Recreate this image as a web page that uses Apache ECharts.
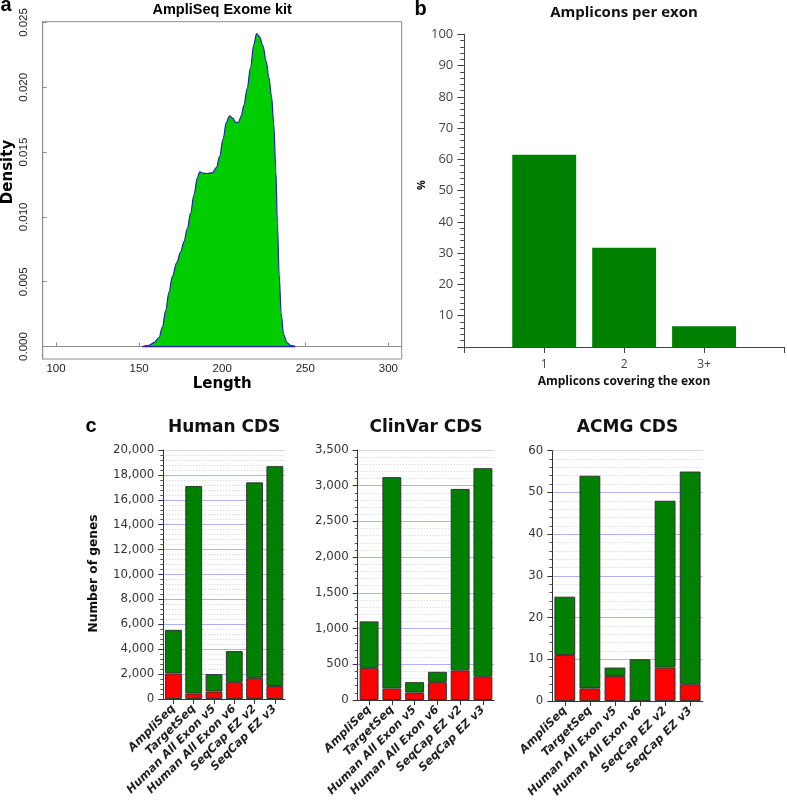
<!DOCTYPE html>
<html><head><meta charset="utf-8">
<script src="https://cdn.jsdelivr.net/npm/echarts@6/dist/echarts.min.js"></script>
<style>html,body{margin:0;padding:0;background:#fff}#chart{width:787px;height:800px}</style>
</head><body><div id="chart"></div>
<script>
// ---- Panel a: AmpliSeq amplicon length density ----
const densityLength = [152, 156, 159, 162, 164, 166, 168, 170, 172.7, 175, 177, 179, 181, 183, 185, 186.5, 188.5, 191, 194, 196.5, 198.5, 200.5, 202.5, 204.5, 206.5, 208, 209.7, 211.5, 213, 215, 217, 219, 220.7, 222.5, 224.5, 226.5, 228, 229.7, 231, 232.3, 233.2, 234.3, 235.5, 237, 239, 241, 244];
const densityValue = [0, 0.0001, 0.0003, 0.0007, 0.0015, 0.0028, 0.0042, 0.0054, 0.0065, 0.0073, 0.0081, 0.0091, 0.0103, 0.0117, 0.0130, 0.01348, 0.01338, 0.01335, 0.0134, 0.0138, 0.0147, 0.0160, 0.0173, 0.0178, 0.0176, 0.0173, 0.0173, 0.0178, 0.0186, 0.0199, 0.0215, 0.0233, 0.02415, 0.0239, 0.0232, 0.0220, 0.0208, 0.0193, 0.0172, 0.0135, 0.0095, 0.0055, 0.0025, 0.0009, 0.0003, 0.0001, 0];
const densityXTicks = [100, 150, 200, 250, 300];
const densityYTicks = [0, 0.005, 0.01, 0.015, 0.02, 0.025];

// ---- Panel b: amplicons per exon ----
const exonCategories = ['1', '2', '3+'];
const exonPercent = [61.5, 31.7, 6.6];

// ---- Panel c: genes covered ----
const kits = ['AmpliSeq', 'TargetSeq', 'Human All Exon v5', 'Human All Exon v6', 'SeqCap EZ v2', 'SeqCap EZ v3'];
const humanRed = [2050, 450, 600, 1350, 1700, 1050];
const humanGreen = [3500, 16650, 1400, 2500, 15700, 17650];
const clinvarRed = [450, 160, 105, 250, 415, 325];
const clinvarGreen = [650, 2960, 145, 145, 2540, 2920];
const acmgRed = [11, 3, 6, 0, 8, 4];
const acmgGreen = [14, 51, 2, 10, 40, 51];
const cTitles = ['Human CDS', 'ClinVar CDS', 'ACMG CDS'];

const chart = echarts.init(document.getElementById('chart'), null, {renderer: 'canvas'});

const cPanels = [
  {red: humanRed, green: humanGreen, max: 20000, interval: 2000, grid: {left: 163.3, top: 450, width: 121.7, height: 249}},
  {red: clinvarRed, green: clinvarGreen, max: 3500, interval: 500, grid: {left: 357.7, top: 450, width: 136.6, height: 250}},
  {red: acmgRed, green: acmgGreen, max: 60, interval: 10, grid: {left: 552.3, top: 450.7, width: 150.4, height: 251}}
];

const grids = [
  {left: 42.7, top: 21.7, width: 359, height: 337.3, show: true, borderColor: '#8c8c8c', borderWidth: 1, backgroundColor: 'transparent'},
  {left: 464.3, top: 34.3, width: 321.4, height: 312.7}
];
cPanels.forEach(p => grids.push(p.grid));

const xAxes = [
  {gridIndex: 0, type: 'value', min: 92, max: 308,
   axisLine: {show: true, lineStyle: {color: '#8c8c8c'}},
   axisTick: {show: true, inside: true, length: 4, customValues: densityXTicks, lineStyle: {color: '#8c8c8c'}},
   axisLabel: {customValues: densityXTicks, margin: 4, fontFamily: 'Liberation Sans', fontSize: 11.5, color: '#222'},
   splitLine: {show: false}},
  {gridIndex: 1, type: 'value', min: 0, max: 4, interval: 1,
   axisLine: {show: true, lineStyle: {color: '#444'}},
   axisTick: {show: true, length: 6, lineStyle: {color: '#444'}},
   axisLabel: {formatter: v => exonCategories[v - 1] || '', margin: 12, fontFamily: 'Open Sans', fontSize: 12, color: '#444'},
   splitLine: {show: false}}
];
const yAxes = [
  {gridIndex: 0, type: 'value', min: -0.00096, max: 0.02506,
   axisLine: {show: true, lineStyle: {color: '#8c8c8c'}},
   axisTick: {show: true, inside: true, length: 4, customValues: densityYTicks, lineStyle: {color: '#8c8c8c'}},
   axisLabel: {customValues: densityYTicks, rotate: 90, margin: 13, formatter: v => v.toFixed(3), fontFamily: 'Liberation Sans', fontSize: 11.5, color: '#222'},
   splitLine: {show: false}},
  {gridIndex: 1, type: 'value', min: 0, max: 100, interval: 10,
   axisLine: {show: true, lineStyle: {color: '#444'}},
   axisTick: {show: true, length: 7, lineStyle: {color: '#444'}},
   minorTick: {show: true, splitNumber: 5, length: 4, lineStyle: {color: '#444'}},
   axisLabel: {formatter: v => v === 0 ? '' : String(v), margin: 11, fontFamily: 'Open Sans', fontSize: 13, color: '#444'},
   splitLine: {show: false}}
];

const series = [
  {type: 'line', xAxisIndex: 0, yAxisIndex: 0, data: densityLength.map((x, i) => [x, densityValue[i]]),
   smooth: 0.35, smoothMonotone: 'x', symbol: 'none', silent: true,
   lineStyle: {color: '#2222aa', width: 1.2}, areaStyle: {color: '#00cd00', opacity: 1}},
  {type: 'line', xAxisIndex: 0, yAxisIndex: 0, data: [[densityLength[0], 0], [densityLength[densityLength.length - 1], 0]],
   symbol: 'none', silent: true, lineStyle: {color: '#2222aa', width: 1.2}},
  {type: 'bar', xAxisIndex: 1, yAxisIndex: 1, data: exonPercent.map((v, i) => [i + 1, v]),
   barWidth: '80%', itemStyle: {color: '#008000'}}
];

cPanels.forEach((p, k) => {
  const gi = k + 2;
  const n = p.max / p.interval;
  xAxes.push({gridIndex: gi, type: 'category', data: kits,
    axisLine: {show: true, lineStyle: {color: '#333'}},
    axisTick: {show: true, alignWithLabel: true, length: 5, lineStyle: {color: '#333'}},
    axisLabel: {interval: 0, rotate: 45, margin: 8, fontFamily: 'DejaVu Sans', fontWeight: 'bold', fontStyle: 'italic', fontSize: 11.4, color: '#222'}});
  yAxes.push({gridIndex: gi, type: 'value', min: 0, max: p.max, interval: p.interval,
    axisLine: {show: true, lineStyle: {color: '#333'}},
    axisTick: {show: true, length: 5, lineStyle: {color: '#333'}},
    minorTick: {show: true, splitNumber: 5, length: 3, lineStyle: {color: '#555'}},
    axisLabel: {formatter: v => v.toLocaleString('en-US'), margin: 9, fontFamily: 'DejaVu Sans', fontSize: 11.8, color: '#333'},
    splitLine: {show: true, lineStyle: {color: Array.from({length: n + 1}, (_, i) => i === n ? '#d8d8d8' : '#b0b0ff'), width: 1}},
    minorSplitLine: {show: true, lineStyle: {color: '#cfcfcf', type: [1, 2], width: 1}}});
  series.push({type: 'bar', xAxisIndex: gi, yAxisIndex: gi, stack: 's' + k, data: p.red, barCategoryGap: '17%',
    itemStyle: {color: '#ff0000', borderColor: '#333', borderWidth: 1}});
  series.push({type: 'bar', xAxisIndex: gi, yAxisIndex: gi, stack: 's' + k, data: p.green, barCategoryGap: '17%',
    itemStyle: {color: '#008000', borderColor: '#333', borderWidth: 1}});
});

function txt(text, x, y, opts) {
  return Object.assign({type: 'text', x: x, y: y, silent: true,
    style: Object.assign({text: text, fill: '#111', align: 'center', verticalAlign: 'middle'}, opts.style)},
    opts.rotation ? {rotation: opts.rotation} : {});
}

const graphics = [
  txt('a', 6, 5, {style: {fontFamily: 'Liberation Sans', fontWeight: 'bold', fontSize: 20, fill: '#000'}}),
  txt('b', 420.5, 9.5, {style: {fontFamily: 'Liberation Sans', fontWeight: 'bold', fontSize: 20, fill: '#000'}}),
  txt('c', 91, 426.5, {style: {fontFamily: 'Liberation Sans', fontWeight: 'bold', fontSize: 20, fill: '#000'}}),
  txt('AmpliSeq Exome kit', 222.2, 10, {style: {fontFamily: 'Liberation Sans', fontWeight: 'bold', fontSize: 14.5, fill: '#000'}}),
  txt('Length', 222.2, 384.5, {style: {fontFamily: 'DejaVu Sans', fontWeight: 'bold', fontSize: 15, fill: '#000'}}),
  txt('Density', 8.5, 172, {rotation: Math.PI / 2, style: {fontFamily: 'DejaVu Sans', fontWeight: 'bold', fontSize: 15, fill: '#000'}}),
  txt('Amplicons per exon', 624, 13, {style: {fontFamily: 'Open Sans', fontWeight: 'bold', fontSize: 15, fill: '#111'}}),
  txt('Amplicons covering the exon', 624, 382, {style: {fontFamily: 'Open Sans', fontWeight: 'bold', fontSize: 12, fill: '#111'}}),
  txt('%', 421.7, 185, {rotation: Math.PI / 2, style: {fontFamily: 'Open Sans', fontWeight: 'bold', fontSize: 11, fill: '#111'}}),
  txt('Number of genes', 94, 573.5, {rotation: Math.PI / 2, style: {fontFamily: 'DejaVu Sans', fontWeight: 'bold', fontSize: 12.2, fill: '#111'}})
];
cPanels.forEach((p, k) => {
  graphics.push(txt(cTitles[k], p.grid.left + p.grid.width / 2, 428, {style: {fontFamily: 'DejaVu Sans', fontWeight: 'bold', fontSize: 17, fill: '#111'}}));
});

chart.setOption({
  animation: false,
  backgroundColor: '#fff',
  grid: grids,
  xAxis: xAxes,
  yAxis: yAxes,
  series: series,
  graphic: graphics
});
</script></body></html>
